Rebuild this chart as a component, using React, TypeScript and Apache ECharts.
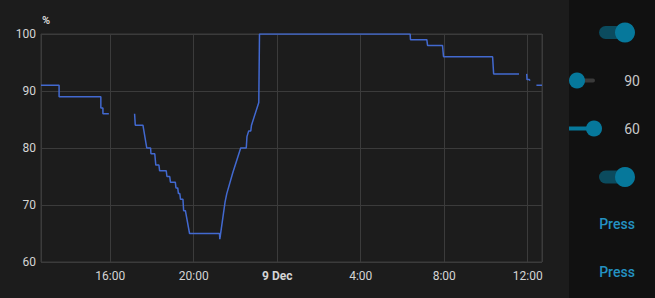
import React, { useEffect, useRef } from "react";
import * as echarts from "echarts";

// Times (UTC, local clock of the chart) and humidity values; "-" marks a gap
const times: string[] = [
  "2024-12-08T12:41", "2024-12-08T13:33", "2024-12-08T13:33", "2024-12-08T15:33", "2024-12-08T15:33",
  "2024-12-08T15:39", "2024-12-08T15:39", "2024-12-08T15:56", "2024-12-08T16:30",
  "2024-12-08T17:10", "2024-12-08T17:12", "2024-12-08T17:34", "2024-12-08T17:45", "2024-12-08T17:56",
  "2024-12-08T17:57", "2024-12-08T18:08", "2024-12-08T18:11", "2024-12-08T18:20", "2024-12-08T18:22",
  "2024-12-08T18:41", "2024-12-08T18:43", "2024-12-08T18:51", "2024-12-08T18:53", "2024-12-08T19:07",
  "2024-12-08T19:09", "2024-12-08T19:14", "2024-12-08T19:16", "2024-12-08T19:20", "2024-12-08T19:22",
  "2024-12-08T19:29", "2024-12-08T19:31", "2024-12-08T19:36", "2024-12-08T19:48", "2024-12-08T21:14",
  "2024-12-08T21:15", "2024-12-08T21:30", "2024-12-08T21:35", "2024-12-08T21:52", "2024-12-08T22:15",
  "2024-12-08T22:31", "2024-12-08T22:33", "2024-12-08T22:38", "2024-12-08T22:44", "2024-12-08T22:46",
  "2024-12-08T23:07", "2024-12-08T23:09", "2024-12-09T06:22", "2024-12-09T06:23", "2024-12-09T07:10",
  "2024-12-09T07:12", "2024-12-09T07:55", "2024-12-09T07:58", "2024-12-09T10:19", "2024-12-09T10:22",
  "2024-12-09T11:35", "2024-12-09T11:46",
  "2024-12-09T11:57", "2024-12-09T11:58", "2024-12-09T12:05", "2024-12-09T12:06", "2024-12-09T12:07",
  "2024-12-09T12:15",
  "2024-12-09T12:25", "2024-12-09T12:41",
];
const humidity: (number | string)[] = [
  91, 91, 89, 89, 87,
  87, 86, 86, "-",
  86, 84, 84, 80, 80,
  79, 79, 77, 77, 76,
  76, 75, 75, 74, 74,
  73, 73, 72, 72, 71,
  71, 69, 69, 65, 65,
  64, 70.5, 72, 75.6, 80,
  80, 82, 83, 83, 84,
  88, 100, 100, 99, 99,
  98, 98, 96, 96, 93,
  93, "-",
  93, 92, 92, 91.8, 91.8,
  "-",
  91, 91,
];
const yTicks = { min: 60, max: 100, step: 10 };
const axisStart = "2024-12-08T12:41";
const axisEnd = "2024-12-09T12:41";
const sliderValues = ["90", "60"];
const buttonLabels = ["Press", "Press"];

const ts = (s: string) => Date.parse(s + ":00Z");

export default function App() {
  const ref = useRef<HTMLDivElement>(null);
  useEffect(() => {
    if (!ref.current) return;
    const chart = echarts.init(ref.current, undefined, { renderer: "svg" });
    const data = times.map((t, i) => [ts(t), humidity[i]]);
    const knob = "#06789b";
    const track = "#0b4b5e";
    const blue = "#2492c2";
    const txt = "#d4d4d4";
    chart.setOption({
      animation: false,
      backgroundColor: "#1c1c1c",
      useUTC: true,
      textStyle: { fontFamily: "Roboto" },
      grid: { left: 41, right: 113, top: 34, bottom: 36, show: true, borderColor: "#3b3b3b", borderWidth: 1 },
      xAxis: {
        type: "time",
        min: ts(axisStart),
        max: ts(axisEnd),
        minInterval: 4 * 3600 * 1000,
        maxInterval: 4 * 3600 * 1000,
        axisLine: { show: false },
        axisTick: { show: false },
        splitLine: { show: true, lineStyle: { color: "#3b3b3b", width: 1 } },
        axisLabel: {
          color: txt,
          fontSize: 12,
          margin: 8,
          showMinLabel: false,
          showMaxLabel: false,
          formatter: (v: number) => {
            const d = new Date(v);
            const h = d.getUTCHours();
            const m = d.getUTCMinutes();
            if (m !== 0 || h % 4 !== 0) return "";
            if (h === 0) return "{b|" + d.getUTCDate() + " Dec}";
            return h + ":00";
          },
          rich: { b: { fontWeight: "bold", fontSize: 12, color: txt, fontFamily: "Roboto" } },
        },
      },
      yAxis: {
        type: "value",
        min: yTicks.min,
        max: yTicks.max,
        interval: yTicks.step,
        name: "%",
        nameGap: 8,
        nameTextStyle: { color: txt, fontSize: 11, fontWeight: "bold", align: "left", padding: [0, 0, 0, 1] },
        axisLine: { show: false },
        axisTick: { show: false },
        splitLine: { lineStyle: { color: "#3b3b3b", width: 1 } },
        axisLabel: { color: txt, fontSize: 12, margin: 5 },
      },
      series: [
        {
          type: "line",
          data,
          showSymbol: false,
          connectNulls: false,
          lineStyle: { color: "#4269d0", width: 1.5 },
          itemStyle: { color: "#4269d0" },
        },
      ],
      graphic: [
        { type: "rect", x: 569, y: 0, shape: { width: 86, height: 298 }, style: { fill: "#111111" }, z: 0 },
        // toggle 1
        { type: "rect", shape: { x: 599, y: 26, width: 26, height: 13, r: 6.5 }, style: { fill: track } },
        { type: "circle", shape: { cx: 625, cy: 32.5, r: 10 }, style: { fill: knob } },
        // slider 1
        { type: "rect", shape: { x: 577, y: 78.5, width: 18, height: 4, r: 2 }, style: { fill: "#3a3a3a" } },
        { type: "circle", shape: { cx: 577, cy: 80.5, r: 8 }, style: { fill: knob } },
        { type: "text", x: 632, y: 80.5, style: { text: sliderValues[0], fill: "#c8c8c8", fontSize: 14, fontFamily: "Roboto", align: "center", verticalAlign: "middle" } },
        // slider 2
        { type: "rect", shape: { x: 569, y: 126.5, width: 25, height: 4, r: 0 }, style: { fill: knob } },
        { type: "circle", shape: { cx: 594, cy: 128.5, r: 8 }, style: { fill: knob } },
        { type: "text", x: 632, y: 128.5, style: { text: sliderValues[1], fill: "#c8c8c8", fontSize: 14, fontFamily: "Roboto", align: "center", verticalAlign: "middle" } },
        // toggle 2
        { type: "rect", shape: { x: 599, y: 170.5, width: 26, height: 13, r: 6.5 }, style: { fill: track } },
        { type: "circle", shape: { cx: 625, cy: 177, r: 10 }, style: { fill: knob } },
        // buttons
        { type: "text", x: 617, y: 224, style: { text: buttonLabels[0], fill: blue, fontSize: 14, fontWeight: 500, fontFamily: "Roboto", align: "center", verticalAlign: "middle" } },
        { type: "text", x: 617, y: 272, style: { text: buttonLabels[1], fill: blue, fontSize: 14, fontWeight: 500, fontFamily: "Roboto", align: "center", verticalAlign: "middle" } },
      ],
    });
    return () => chart.dispose();
  }, []);
  return (
    <div
      ref={ref}
      style={{ position: "fixed", left: 0, top: 0, width: 655, height: 298 }}
    />
  );
}
